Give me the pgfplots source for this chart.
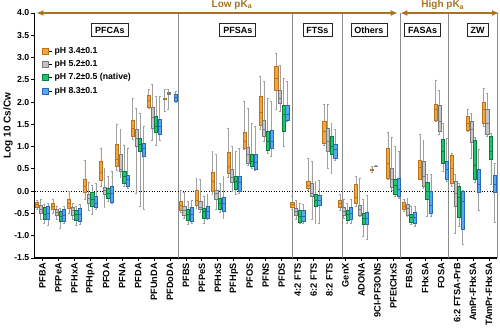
\documentclass[border=0pt]{standalone}
\usepackage{pgfplots}
\usepackage{pgfplotstable}
\pgfplotsset{compat=1.18}
\usepgfplotslibrary{statistics}
\usetikzlibrary{arrows.meta}
\usepackage{fontspec}
\setmainfont{Liberation Sans}

\definecolor{cOr}{HTML}{F5A540}
\definecolor{cOrD}{HTML}{B8741C}
\definecolor{cGy}{HTML}{C4C4C4}
\definecolor{cGyD}{HTML}{7A7A7A}
\definecolor{cGn}{HTML}{1EC46E}
\definecolor{cGnD}{HTML}{0C7A40}
\definecolor{cBl}{HTML}{55A8F2}
\definecolor{cBlD}{HTML}{2A68B0}
\definecolor{cBr}{HTML}{A8731E}
\definecolor{cWh}{HTML}{A0A0A0}
\definecolor{cSep}{HTML}{8C8C8C}

% pH 3.4
\pgfplotstableread{
lw lq med uq uw
-0.41 -0.35 -0.30 -0.25 -0.20
-0.49 -0.40 -0.35 -0.27 -0.19
-0.49 -0.38 -0.27 -0.17 0.00
-0.19 -0.03 0.10 0.26 0.69
0.12 0.25 0.43 0.67 0.97
0.47 0.57 0.71 1.05 1.51
1.17 1.23 1.42 1.59 2.09
1.85 1.89 2.03 2.16 2.28
1.79 2.06 2.07 2.08 2.28
-0.48 -0.42 -0.32 -0.22 0.01
-0.38 -0.32 -0.20 0.03 0.30
-0.08 0.00 0.22 0.42 0.89
0.32 0.40 0.56 0.88 1.42
0.93 0.97 1.12 1.32 2.01
1.38 1.49 1.77 2.13 2.57
1.83 2.26 2.54 2.81 3.10
-0.41 -0.36 -0.30 -0.25 -0.11
0.03 0.07 0.14 0.22 0.74
1.02 1.08 1.34 1.57 1.94
-0.42 -0.35 -0.28 -0.21 -0.08
-0.34 -0.28 -0.13 0.15 0.33
0.42 0.47 0.48 0.49 0.55
0.26 0.30 0.63 0.97 1.32
-0.45 -0.41 -0.34 -0.25 -0.18
0.26 0.27 0.54 0.69 1.27
1.57 1.60 1.83 1.96 2.50
0.10 0.18 0.52 0.80 0.86
1.34 1.36 1.53 1.68 1.84
1.45 1.53 1.84 1.99 2.31
}\tOr

% pH 5.2
\pgfplotstableread{
lw lq med uq uw
-0.64 -0.49 -0.40 -0.31 -0.19
-0.64 -0.55 -0.47 -0.40 -0.33
-0.64 -0.53 -0.43 -0.36 -0.27
-0.42 -0.27 -0.16 -0.07 0.21
-0.36 -0.06 0.02 0.09 0.52
0.32 0.44 0.50 0.82 1.39
-0.04 1.00 1.19 1.39 1.86
1.15 1.42 1.66 1.89 2.39
1.83 2.18 2.20 2.23 2.28
-0.60 -0.53 -0.43 -0.34 -0.02
-0.48 -0.41 -0.37 -0.23 0.26
-0.41 -0.18 -0.06 0.02 0.82
0.00 0.20 0.30 0.50 1.00
0.59 0.63 0.82 0.99 1.86
1.12 1.23 1.38 1.59 2.46
1.79 1.97 2.09 2.26 2.83
-0.64 -0.55 -0.46 -0.38 -0.20
-0.64 -0.12 -0.05 0.17 0.67
0.52 0.90 1.12 1.42 1.94
-0.60 -0.53 -0.45 -0.35 -0.19
-0.57 -0.53 -0.42 -0.31 0.30
0.55 0.555 0.56 0.565 0.57
0.03 0.09 0.26 0.52 1.21
-0.57 -0.53 -0.38 -0.29 -0.16
0.07 0.11 0.33 0.68 1.15
1.27 1.34 1.57 1.92 2.26
-0.95 -0.33 -0.04 0.22 0.37
0.74 1.09 1.38 1.56 1.75
1.23 1.27 1.53 1.84 2.20
}\tGy

% pH 7.2 (native)
\pgfplotstableread{
lw lq med uq uw
-0.72 -0.64 -0.51 -0.36 -0.30
-0.83 -0.68 -0.57 -0.45 -0.38
-0.77 -0.66 -0.53 -0.42 -0.33
-0.53 -0.33 -0.18 -0.03 0.14
-0.23 -0.16 -0.05 0.07 0.33
0.11 0.18 0.33 0.44 1.04
-0.34 0.89 1.04 1.19 1.75
1.04 1.32 1.45 1.68 2.13
nan nan nan nan nan
-0.75 -0.65 -0.53 -0.41 -0.23
-0.73 -0.60 -0.46 -0.38 -0.11
-0.48 -0.41 -0.28 -0.16 0.18
-0.08 0.04 0.22 0.34 0.89
0.52 0.56 0.67 0.82 1.53
0.86 0.93 1.12 1.34 2.09
1.00 1.34 1.72 1.94 2.54
-0.73 -0.70 -0.56 -0.43 -0.27
-0.73 -0.33 -0.20 -0.06 0.22
0.41 0.82 1.00 1.23 1.53
-0.73 -0.65 -0.53 -0.43 -0.27
-1.01 -0.75 -0.60 -0.49 -0.19
nan nan nan nan nan
-0.12 -0.06 0.13 0.27 1.00
-0.75 -0.70 -0.58 -0.51 -0.33
-0.56 -0.18 0.00 0.20 0.37
0.45 0.63 0.89 1.17 1.53
-0.79 -0.58 -0.15 0.12 0.18
0.20 0.26 0.59 1.14 1.20
0.15 0.71 0.89 1.24 1.30
}\tGn

% pH 8.3
\pgfplotstableread{
lw lq med uq uw
-0.77 -0.62 -0.49 -0.33 -0.27
-0.72 -0.68 -0.55 -0.40 -0.34
-0.74 -0.68 -0.53 -0.38 -0.30
-0.40 -0.36 -0.27 -0.12 0.18
-0.27 -0.25 -0.06 0.12 0.45
0.07 0.11 0.26 0.37 0.97
-0.41 0.78 0.97 1.08 1.45
1.15 1.27 1.45 1.62 2.13
1.99 2.01 2.10 2.18 2.24
-0.72 -0.68 -0.53 -0.36 -0.20
-0.64 -0.60 -0.46 -0.33 -0.08
-0.60 -0.46 -0.28 -0.14 0.33
-0.04 0.00 0.19 0.33 0.96
0.48 0.50 0.65 0.82 1.45
0.78 0.97 1.12 1.36 2.01
1.57 1.60 1.72 1.94 2.46
-0.72 -0.68 -0.56 -0.43 -0.30
-0.73 -0.32 -0.21 -0.10 0.24
0.70 0.74 0.93 1.05 1.38
-0.71 -0.62 -0.49 -0.35 -0.18
-1.09 -0.73 -0.60 -0.47 -0.10
nan nan nan nan nan
-0.15 -0.12 0.03 0.29 0.89
-0.79 -0.71 -0.58 -0.48 -0.34
-0.56 -0.50 -0.33 0.01 0.37
0.22 0.26 0.48 0.67 1.19
-1.19 -0.86 -0.23 0.00 0.03
-0.42 -0.03 0.15 0.50 0.93
-0.69 -0.02 0.15 0.35 0.63
}\tBl

% #1 table, #2 offset, #3 fill, #4 draw, #5 row list
\newcommand{\boxes}[5]{%
  \pgfplotsinvokeforeach{#5}{%
    \pgfplotstablegetelem{##1}{lw}\of{#1}\let\vlw\pgfplotsretval
    \pgfplotstablegetelem{##1}{lq}\of{#1}\let\vlq\pgfplotsretval
    \pgfplotstablegetelem{##1}{med}\of{#1}\let\vmed\pgfplotsretval
    \pgfplotstablegetelem{##1}{uq}\of{#1}\let\vuq\pgfplotsretval
    \pgfplotstablegetelem{##1}{uw}\of{#1}\let\vuw\pgfplotsretval
    \edef\doplot{\noexpand\addplot[forget plot, fill=#3, draw=#4, line width=0.4pt,
      boxplot prepared={draw direction=y, draw position=##1#2, box extend=0.2, whisker extend=0.12,
        lower whisker=\vlw, lower quartile=\vlq, median=\vmed,
        upper quartile=\vuq, upper whisker=\vuw,
        every whisker/.style={draw=cWh, line width=0.6pt},
        every median/.style={draw=#4, line width=0.8pt}}]
      coordinates {};}%
    \doplot
  }%
}

\begin{document}
\begin{tikzpicture}
\begin{axis}[
  scale only axis, width=462.5pt, height=245pt,
  xmin=-0.5, xmax=28.5, ymin=-1.5, ymax=4,
  axis x line*=bottom, axis y line*=left,
  axis line style={line width=1.3pt, black},
  xtick={0,...,28},
  xticklabels={PFBA,PFPeA,PFHxA,PFHpA,PFOA,PFNA,PFDA,PFUnDA,PFDoDA,PFBS,PFPeS,PFHxS,PFHpS,PFOS,PFNS,PFDS,4:2 FTS,6:2 FTS,8:2 FTS,GenX,ADONA,9Cl-PF3ONS,PFEtCHxS,FBSA,FHxSA,FOSA,6:2 FTSA-PrB,AmPr-FHxSA,TAmPr-FHxSA},
  ytick={-1.5,-1,-0.5,0,0.5,1,1.5,2,2.5,3,3.5,4},
  yticklabels={-1.5,-1.0,-0.5,0.0,0.5,1.0,1.5,2.0,2.5,3.0,3.5,4.0},
  tick align=outside, major tick length=3pt,
  every tick/.style={black, line width=1pt},
  xticklabel style={rotate=90, anchor=east, font=\bfseries\fontsize{9.2}{10}\selectfont, inner sep=2pt},
  yticklabel style={font=\bfseries\fontsize{8.7}{9}\selectfont, inner sep=2pt},
  ylabel={Log 10 Cs/Cw},
  ylabel style={font=\bfseries\fontsize{10}{11}\selectfont, at={(axis description cs:-0.057,0.54)}, anchor=center},
  clip=false,
  legend style={draw=none, fill=none, at={(axis description cs:0.016,0.868)}, anchor=north west,
    font=\bfseries\fontsize{8.7}{10}\selectfont, row sep=1.5pt, inner sep=0pt},
  legend cell align=left,
]
\addlegendimage{legend image code/.code={\path (0pt,0pt) -- (10pt,0pt); \draw[draw=cOrD,fill=cOr] (0pt,-3pt) rectangle (6pt,3pt);}}
\addlegendentry{pH 3.4±0.1}
\addlegendimage{legend image code/.code={\path (0pt,0pt) -- (10pt,0pt); \draw[draw=cGyD,fill=cGy] (0pt,-3pt) rectangle (6pt,3pt);}}
\addlegendentry{pH 5.2±0.1}
\addlegendimage{legend image code/.code={\path (0pt,0pt) -- (10pt,0pt); \draw[draw=cGnD,fill=cGn] (0pt,-3pt) rectangle (6pt,3pt);}}
\addlegendentry{pH 7.2±0.5 (native)}
\addlegendimage{legend image code/.code={\path (0pt,0pt) -- (10pt,0pt); \draw[draw=cBlD,fill=cBl] (0pt,-3pt) rectangle (6pt,3pt);}}
\addlegendentry{pH 8.3±0.1}

% separators and frame
\pgfplotsinvokeforeach{8.5,15.65,18.8,22.45,25.45,28.5}{
  \draw[cSep, line width=1pt] (axis cs:#1,-1.5) -- (axis cs:#1,4);
}
\draw[black, dotted, line width=0.6pt] (axis cs:-0.5,0) -- (axis cs:28.5,0);

\boxes{\tOr}{-0.34}{cOr}{cOrD}{0,...,28}
\boxes{\tGy}{-0.11}{cGy}{cGyD}{0,...,28}
\boxes{\tGn}{+0.12}{cGn}{cGnD}{0,...,7,9,10,...,20,22,23,...,28}
\boxes{\tBl}{+0.35}{cBl}{cBlD}{0,...,20,22,23,...,28}

% group labels
\tikzset{grp/.style={draw=black!85, line width=0.8pt, fill=white, font=\bfseries\fontsize{9}{10}\selectfont, inner xsep=3.5pt, inner ysep=3.5pt}}
\node[grp] at (axis cs:4.22,3.62) {PFCAs};
\node[grp] at (axis cs:12.25,3.62) {PFSAs};
\node[grp] at (axis cs:17.24,3.62) {FTSs};
\node[grp] at (axis cs:20.47,3.62) {Others};
\node[grp] at (axis cs:23.83,3.62) {FASAs};
\node[grp] at (axis cs:27.28,3.62) {ZW};

% pKa arrows
\draw[cBr, line width=1.5pt, {Latex[length=7pt,width=6pt]}-{Latex[length=7pt,width=6pt]}] (axis cs:-0.38,4) -- (axis cs:22.27,4);
\draw[cBr, line width=1.5pt, {Latex[length=7pt,width=6pt]}-{Latex[length=7pt,width=6pt]}] (axis cs:22.44,4) -- (axis cs:28.63,4);
\node[cBr, font=\bfseries\fontsize{10}{11}\selectfont] at (axis cs:11.88,4.18) {Low pK\textsubscript{a}};
\node[cBr, font=\bfseries\fontsize{10}{11}\selectfont] at (axis cs:25.1,4.18) {High pK\textsubscript{a}};
\end{axis}
\pgfresetboundingbox
\path[use as bounding box] ([xshift=-34.5pt,yshift=-69pt]current axis.south west) rectangle ([xshift=3pt,yshift=13pt]current axis.north east);
\end{tikzpicture}
\end{document}
